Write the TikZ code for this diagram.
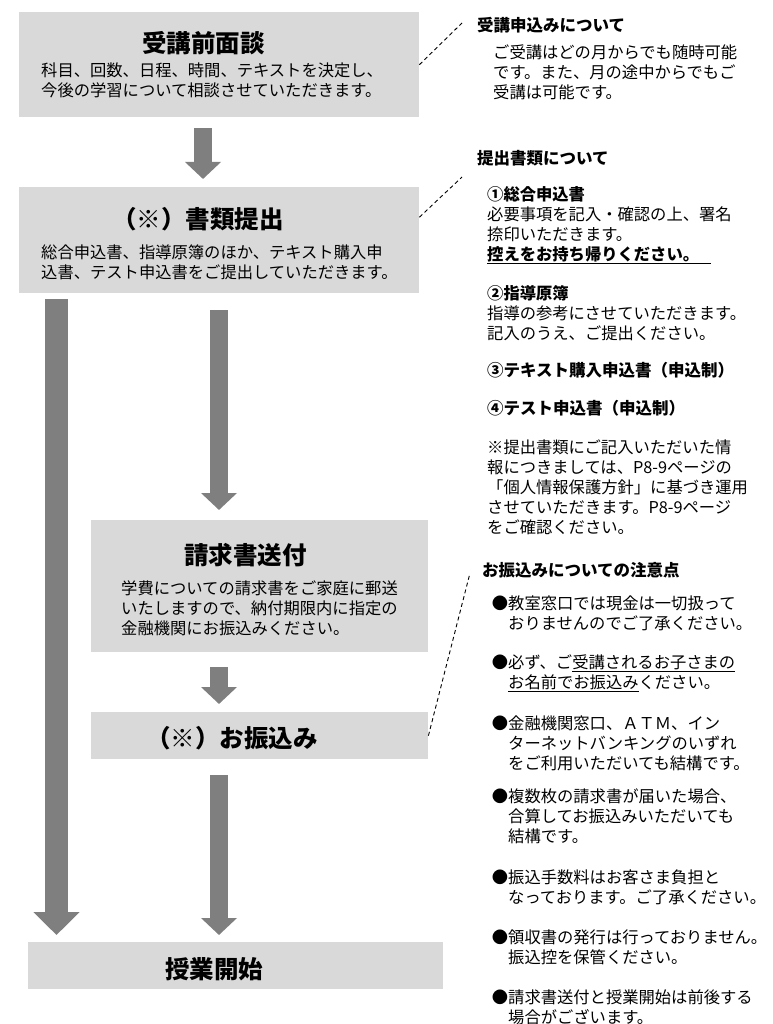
\documentclass[tikz,border=0pt]{standalone}
\usepackage{fontspec}
\setmainfont{Noto Sans CJK JP}
\usepackage{tikz}
\usetikzlibrary{arrows.meta, positioning, calc}
\definecolor{boxgray}{HTML}{D9D9D9}
\definecolor{arrowgray}{HTML}{7F7F7F}
\tikzstyle{stage} = [rectangle, fill=boxgray, inner sep=0pt, anchor=north west]
\tikzstyle{title} = [anchor=west, inner sep=0pt, font=\fontsize{24.5}{28}\selectfont\bfseries]
\tikzstyle{body} = [anchor=west, inner sep=0pt, align=left, font=\fontsize{16.3}{20}\selectfont]
\tikzstyle{head} = [anchor=west, inner sep=0pt, font=\fontsize{16.5}{20}\selectfont\bfseries]
\tikzstyle{item} = [body]
\tikzstyle{flow} = [line width=18.5pt, color=arrowgray, -{Triangle[width=35pt,length=17pt]}]
\tikzstyle{guide} = [dashed, dash pattern=on 4pt off 3pt, line width=0.9pt]

\begin{document}
\begin{tikzpicture}[x=1pt, y=-1pt]
  \useasboundingbox (0,0) rectangle (772,1024);

  % flow boxes
  \node[stage, minimum width=400pt, minimum height=105pt] (interview) at (19,12) {};
  \node[stage, minimum width=400pt, minimum height=106pt] (papers) at (19,187) {};
  \node[stage, minimum width=337pt, minimum height=132pt] (invoice) at (91,520) {};
  \node[stage, minimum width=337pt, minimum height=47pt] (payment) at (91,712) {};
  \node[stage, minimum width=415pt, minimum height=47pt] (start) at (28,942) {};

  \node[title] (interviewT) at (142,43) {受講前面談};
  \node[title] (papersT) at (112,219) {（※）書類提出};
  \node[title] (invoiceT) at (184,555) {請求書送付};
  \node[title] (paymentT) at (146,738) {（※）お振込み};
  \node[title] (startT) at (165,969) {授業開始};
  \node[body] (interviewB) at (41,80.5) {科目、回数、日程、時間、テキストを決定し、\\今後の学習について相談させていただきます。};
  \node[body] (papersB) at (41,262) {総合申込書、指導原簿のほか、テキスト購入申\\込書、テスト申込書をご提出していただきます。};
  \node[body] (invoiceB) at (121,608) {学費についての請求書をご家庭に郵送\\いたしますので、納付期限内に指定の\\金融機関にお振込みください。};

  % arrows
  \draw[flow] ([xshift=184pt,yshift=-11pt]interview.south west) -- ([xshift=184pt,yshift=8pt]papers.north west);
  \draw[flow] ([xshift=200pt,yshift=-17pt]papers.south west) -- ([xshift=128pt,yshift=10pt]invoice.north west);
  \draw[flow] ([xshift=128pt,yshift=-15pt]invoice.south west) -- ([xshift=128pt,yshift=8pt]payment.north west);
  \draw[flow] ([xshift=128pt,yshift=-16pt]payment.south west) -- ([xshift=191pt,yshift=7pt]start.north west);
  \draw[flow, line width=23pt, -{Triangle[width=45pt,length=23pt]}] ([xshift=37.5pt,yshift=-6pt]papers.south west) -- ([xshift=28.5pt,yshift=7pt]start.north west);

  % notes
  \node[head] (applyH) at (477,25) {受講申込みについて};
  \node[body] (applyT) at (493,72) {ご受講はどの月からでも随時可能\\です。また、月の途中からでもご\\受講は可能です。};
  \node[head] (docsH) at (477,158) {提出書類について};
  \node[body] (doc1) at (487,225) {\textbf{①総合申込書}\\必要事項を記入・確認の上、署名\\捺印いただきます。\\\textbf{\underline{控えをお持ち帰りください。\hspace{12pt}}}};
  \node[body] (doc2) at (487,313) {\textbf{②指導原簿}\\指導の参考にさせていただきます。\\記入のうえ、ご提出ください。};
  \node[head] (doc3) at (487,370) {③テキスト購入申込書（申込制）};
  \node[head] (doc4) at (487,408) {④テスト申込書（申込制）};
  \node[body] (docNote) at (487,487.5) {※提出書類にご記入いただいた情\\報につきましては、P8-9ページの\\「個人情報保護方針」に基づき運用\\させていただきます。P8-9ページ\\をご確認ください。};
  \node[head] (payH) at (482,570) {お振込みについての注意点};
  \node[item] (cash) at (508,613) {\llap{●}教室窓口では現金は一切扱って\\おりませんのでご了承ください。};
  \node[item] (childname) at (508,673) {\llap{●}必ず、ご\underline{受講されるお子さまの}\\\underline{お名前でお振込み}ください。};
  \node[item] (bank) at (508,743) {\llap{●}金融機関窓口、ＡＴＭ、イン\\ターネットバンキングのいずれ\\をご利用いただいても結構です。};
  \node[item] (multi) at (508,816) {\llap{●}複数枚の請求書が届いた場合、\\合算してお振込みいただいても\\結構です。};
  \node[item] (fee) at (508,887) {\llap{●}振込手数料はお客さま負担と\\なっております。ご了承ください。};
  \node[item] (receipt) at (508,947) {\llap{●}領収書の発行は行っておりません。\\振込控を保管ください。};
  \node[item] (timing) at (508,1007) {\llap{●}請求書送付と授業開始は前後する\\場合がございます。};

  \draw[guide] (interview.east) -- ([shift={(-15pt,2pt)}]applyH.west);
  \draw[guide] ([yshift=23pt]papers.east) -- ([shift={(-15pt,-19pt)}]docsH.west);
  \draw[guide] (payment.east) -- ([shift={(-12pt,-3pt)}]payH.west);
\end{tikzpicture}
\end{document}
